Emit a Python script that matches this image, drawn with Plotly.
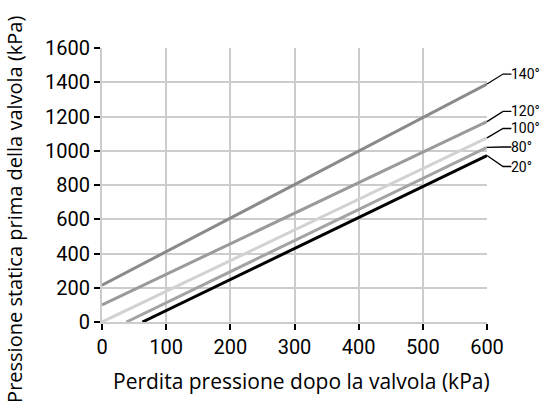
import plotly.graph_objects as go

# Data
temps = ["140°", "120°", "100°", "80°", "20°"]
x_start = [0, 0, 0, 38, 63]
y_start = [215, 100, 0, 0, 0]
x_end = [600, 600, 600, 600, 600]
y_end = [1390, 1170, 1075, 1020, 972]
label_y = [1448, 1230, 1130, 1022, 908]
colors = ["#8a8a8a", "#9a9a9a", "#d2d2d2", "#a3a3a3", "#000000"]

x_ticks = [0, 100, 200, 300, 400, 500, 600]
y_ticks = [0, 200, 400, 600, 800, 1000, 1200, 1400, 1600]
X_MAX, Y_MAX = 600, 1600

TICKFONT = "Roboto, Liberation Sans, sans-serif"
TITLEFONT = "Open Sans, Noto Sans, sans-serif"

fig = go.Figure()
for t, xs, ys, xe, ye, c in zip(temps, x_start, y_start, x_end, y_end, colors):
    fig.add_trace(go.Scatter(x=[xs, xe], y=[ys, ye], mode="lines",
                             line=dict(color=c, width=3), name=t,
                             showlegend=False, hoverinfo="skip", cliponaxis=False))

shapes = []
annotations = []
for t, ye, ly in zip(temps, y_end, label_y):
    x0, x1, x2 = 1.0, 625 / X_MAX, 638 / X_MAX
    y0, y1 = ye / Y_MAX, ly / Y_MAX
    shapes.append(dict(type="path", xref="paper", yref="paper",
                       path=f"M {x0} {y0} L {x1} {y1} L {x2} {y1}",
                       line=dict(color="black", width=1.3)))
    annotations.append(dict(x=638 / X_MAX, y=y1, xref="paper", yref="paper", text=t,
                            showarrow=False, xanchor="left", yanchor="middle",
                            xshift=-2,
                            font=dict(family=TICKFONT, size=14, color="black")))

annotations.append(dict(x=-0.228, y=0.41, xref="paper", yref="paper",
                        text="Pressione statica prima della valvola (kPa)",
                        textangle=-90, showarrow=False,
                        xanchor="center", yanchor="middle",
                        font=dict(family=TITLEFONT, size=20, color="black")))

annotations.append(dict(x=0.517, y=-0.215, xref="paper", yref="paper",
                        text="Perdita pressione dopo la valvola (kPa)",
                        showarrow=False, xanchor="center", yanchor="middle",
                        font=dict(family=TITLEFONT, size=21, color="black")))

fig.update_layout(
    width=545, height=419,
    margin=dict(l=102, r=58, t=48, b=97),
    plot_bgcolor="white", paper_bgcolor="white",
    shapes=shapes, annotations=annotations,
    xaxis=dict(range=[0, X_MAX], tickvals=x_ticks, ticks="outside", ticklen=6,
               tickwidth=2, tickcolor="black", showgrid=True, gridcolor="#cccccc",
               gridwidth=2, showline=True, linecolor="#cccccc", linewidth=2,
               zeroline=False,
               tickfont=dict(family=TICKFONT, size=20, color="black")),
    yaxis=dict(range=[0, Y_MAX], tickvals=y_ticks, ticks="outside", ticklen=6,
               tickwidth=2, tickcolor="black", showgrid=True, gridcolor="#cccccc",
               gridwidth=2, showline=True, linecolor="#cccccc", linewidth=2,
               zeroline=False,
               tickfont=dict(family=TICKFONT, size=20, color="black")),
)

fig.write_html("out.html", config={"displayModeBar": False},
               post_script="document.body.style.margin='0px';")
